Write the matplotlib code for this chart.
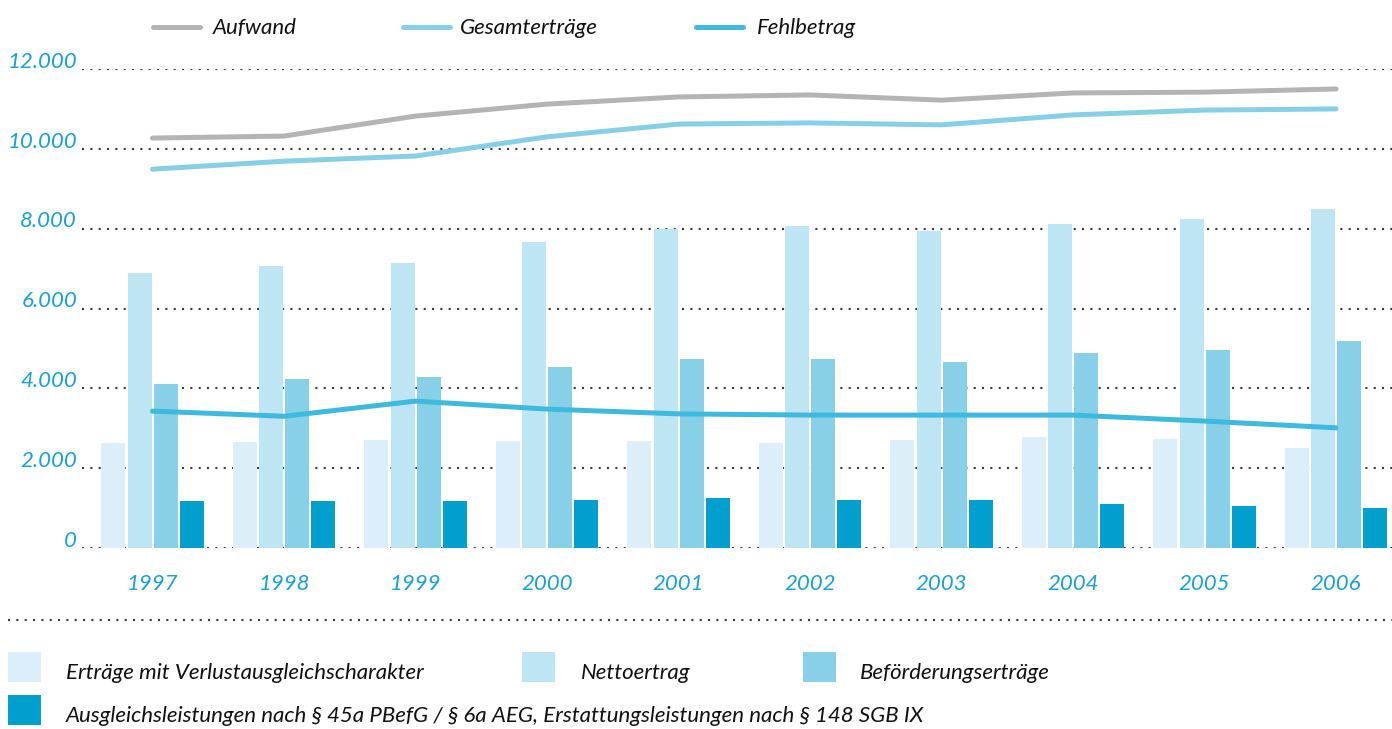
import matplotlib
matplotlib.use("Agg")
import matplotlib.pyplot as plt
from matplotlib.lines import Line2D
from matplotlib.patches import Rectangle
from matplotlib.transforms import blended_transform_factory
import numpy as np

plt.rcParams['font.family'] = ['Lato', 'DejaVu Sans']

years = ["1997", "1998", "1999", "2000", "2001", "2002", "2003", "2004", "2005", "2006"]

# Bars
ertraege_vac = [2630, 2660, 2700, 2680, 2680, 2630, 2700, 2780, 2740, 2510]
nettoertrag = [6890, 7060, 7140, 7670, 7990, 8070, 7940, 8120, 8250, 8500]
befoerderung = [4110, 4230, 4280, 4530, 4730, 4730, 4660, 4880, 4960, 5190]
ausgleich = [1180, 1180, 1180, 1200, 1250, 1200, 1200, 1100, 1050, 1000]

# Lines
aufwand = [10270, 10320, 10820, 11120, 11300, 11350, 11220, 11400, 11420, 11500]
gesamt = [9490, 9690, 9820, 10300, 10620, 10650, 10600, 10850, 10970, 11000]
fehlbetrag = [3430, 3300, 3680, 3480, 3360, 3330, 3330, 3330, 3180, 3010]

yticks = [0, 2000, 4000, 6000, 8000, 10000, 12000]

bar_series = [
    ("Erträge mit Verlustausgleichscharakter", ertraege_vac, "#dbeef9"),
    ("Nettoertrag", nettoertrag, "#bde5f4"),
    ("Beförderungserträge", befoerderung, "#87d0e7"),
    ("Ausgleichsleistungen nach § 45a PBefG / § 6a AEG, Erstattungsleistungen nach § 148 SGB IX", ausgleich, "#009fce"),
]
line_series = [
    ("Aufwand", aufwand, "#b4b4b4"),
    ("Gesamterträge", gesamt, "#87cfe6"),
    ("Fehlbetrag", fehlbetrag, "#3dbade"),
]

W, H = 1392, 729
fig = plt.figure(figsize=(W / 100, H / 100), dpi=100)
fig.patch.set_facecolor("white")

def fx(px):
    return px / W

def fy(py):
    return (H - py) / H

ax_left, ax_right = 82, 1392
ax_bottom, ax_top = 548, 69
ax = fig.add_axes([fx(ax_left), fy(ax_bottom), fx(ax_right - ax_left), fy(ax_top) - fy(ax_bottom)])
ax.set_axis_off()

step_px = 131.5
c0_px = 152.5
ax.set_xlim((ax_left - c0_px) / step_px, (ax_right - c0_px) / step_px)
ax.set_ylim(0, 12000)

x = np.arange(len(years))
offsets = [-0.300, -0.098, 0.100, 0.298]
width = 24 / step_px

tick_blue = "#1ba0d2"
grid_col = "#3a3a3a"
FS = 16
DOT = (0, (1, 3))

# grid
for v in yticks:
    ax.axhline(v, color=grid_col, lw=1.5, linestyle=DOT, zorder=1, dash_capstyle="butt")

for (name, vals, col), off in zip(bar_series, offsets):
    ax.bar(x + off, vals, width=width, color=col, zorder=2, linewidth=0)

for name, vals, col in line_series:
    ax.plot(x, vals, color=col, lw=3.6, solid_capstyle="round", solid_joinstyle="round", zorder=3)

# y tick labels
tr_y = blended_transform_factory(fig.transFigure, ax.transData)
for v in yticks:
    lab = f"{v:,}".replace(",", ".")
    ax.text(fx(77), v + 30, lab, transform=tr_y, ha="right", va="baseline",
            fontsize=FS, style="italic", color=tick_blue)

# x labels
tr_x = blended_transform_factory(ax.transData, fig.transFigure)
for xi, yr in zip(x, years):
    ax.text(xi, fy(584), yr, transform=tr_x, ha="center", va="center",
            fontsize=FS, style="italic", color=tick_blue)

# separator line
fig.add_artist(Line2D([fx(8), fx(1392)], [fy(620), fy(620)], color=grid_col, lw=1.5,
                      linestyle=DOT, transform=fig.transFigure))

# top legend
leg_top = [(153, 213), (403, 460), (696, 757)]
for (name, vals, col), (hx, tx) in zip(line_series, leg_top):
    fig.add_artist(Line2D([fx(hx), fx(hx + 47)], [fy(27), fy(27)], color=col, lw=3.6,
                          solid_capstyle="round", transform=fig.transFigure))
    fig.text(fx(tx), fy(28), name, ha="left", va="center", fontsize=FS, style="italic", color="#111111")

# bottom legend
leg_bot = [(8, 652, 66), (522, 652, 581), (803, 652, 860), (8, 695, 66)]
for (name, vals, col), (sx, sy, tx) in zip(bar_series, leg_bot):
    fig.add_artist(Rectangle((fx(sx), fy(sy + 30)), fx(33), fy(0) - fy(30), color=col,
                             transform=fig.transFigure, linewidth=0))
    fig.text(fx(tx), fy(sy + 21), name, ha="left", va="center", fontsize=FS, style="italic", color="#111111")

fig.savefig("out.png", dpi=100, facecolor="white")
